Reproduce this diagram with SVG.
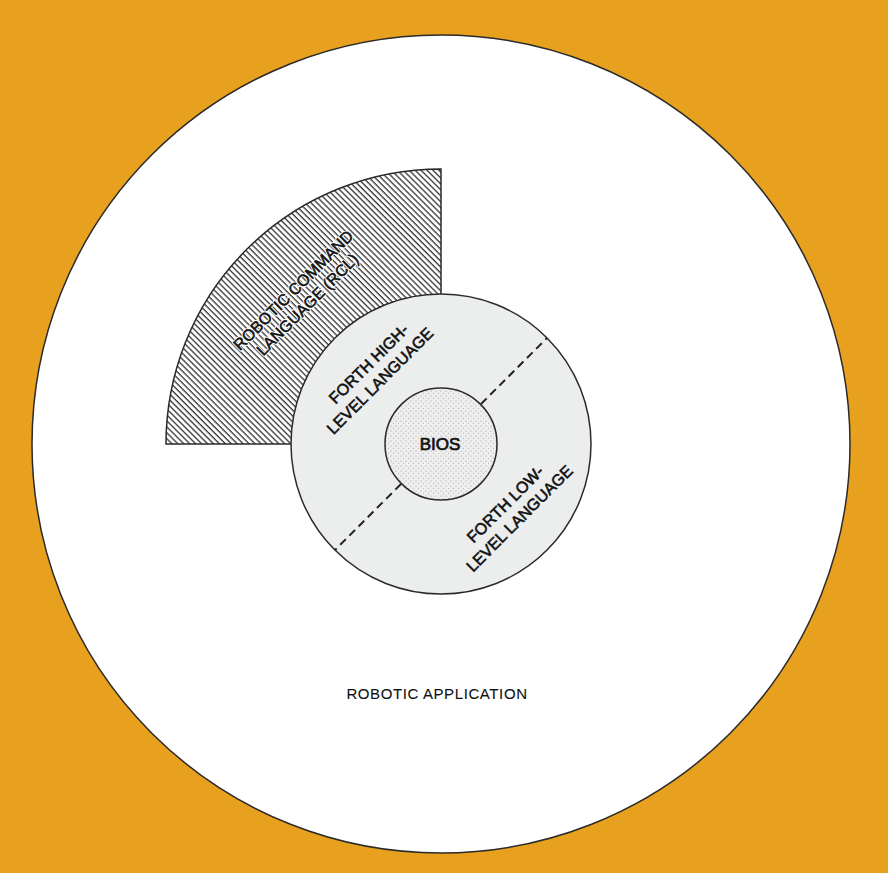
<svg xmlns="http://www.w3.org/2000/svg" width="888" height="873" viewBox="0 0 888 873">
  <style>
    .lbl { font-family: "Liberation Sans", Arial, sans-serif; fill: #111111; stroke: #111111; stroke-width: 0.45; }
    .rot { font-size: 16px; text-anchor: middle; stroke-width: 0.6; }
    .halo { font-family: "Liberation Sans", Arial, sans-serif; font-size: 16px; text-anchor: middle; fill: #ffffff; stroke: #ffffff; stroke-width: 2.5; stroke-linejoin: round; }
    .edge { stroke: #2a2a2a; stroke-width: 1.5; }
  </style>
  <defs>
    <pattern id="hatch" patternUnits="userSpaceOnUse" width="4.2" height="10" patternTransform="rotate(-45)">
      <rect width="4.2" height="10" fill="#ffffff"/>
      <line x1="1" y1="0" x2="1" y2="10" stroke="#333333" stroke-width="1.3"/>
    </pattern>
    <pattern id="stipple" patternUnits="userSpaceOnUse" width="5" height="5">
      <rect width="5" height="5" fill="#eeeeee"/>
      <circle cx="1" cy="1" r="0.6" fill="#9a9a9a"/>
      <circle cx="3.5" cy="3.2" r="0.55" fill="#aaaaaa"/>
    </pattern>
  </defs>

  <rect id="background" x="0" y="0" width="888" height="873" fill="#e8a11e"/>

  <g id="robotic-application">
    <circle cx="441" cy="444" r="409" fill="#ffffff" class="edge"/>
    <text class="lbl" x="437" y="699" font-size="15" letter-spacing="0.6" text-anchor="middle" style="stroke-width:0.1">ROBOTIC APPLICATION</text>
  </g>

  <g id="rcl">
    <path d="M 441 444 L 166 444 A 275 275 0 0 1 441 169 Z" fill="url(#hatch)" class="edge"/>
    <g transform="translate(300,297) rotate(-45)">
      <text class="halo" x="0" y="-4">ROBOTIC COMMAND</text>
      <text class="halo" x="0" y="16">LANGUAGE (RCL)</text>
      <text class="lbl rot" x="0" y="-4">ROBOTIC COMMAND</text>
      <text class="lbl rot" x="0" y="16">LANGUAGE (RCL)</text>
    </g>
  </g>

  <g id="forth">
    <circle cx="441" cy="444" r="150" fill="#eceeee" class="edge"/>
    <g transform="translate(374,372) rotate(-45)">
      <text class="lbl rot" x="2" y="-4">FORTH HIGH-</text>
      <text class="lbl rot" x="-2" y="16">LEVEL LANGUAGE</text>
    </g>
    <g transform="translate(512,511) rotate(-45)">
      <text class="lbl rot" x="0" y="-4">FORTH LOW-</text>
      <text class="lbl rot" x="0" y="16">LEVEL LANGUAGE</text>
    </g>
  </g>

  <g id="connectors">
    <line x1="481" y1="404" x2="547" y2="338" stroke="#222222" stroke-width="2" stroke-dasharray="8 5"/>
    <line x1="401" y1="484" x2="335" y2="550" stroke="#222222" stroke-width="2" stroke-dasharray="8 5"/>
  </g>

  <g id="bios">
    <circle cx="441" cy="444" r="56" fill="url(#stipple)" class="edge"/>
    <text class="lbl" x="440" y="450" font-size="17" text-anchor="middle" style="stroke-width:0.7">BIOS</text>
  </g>
</svg>
